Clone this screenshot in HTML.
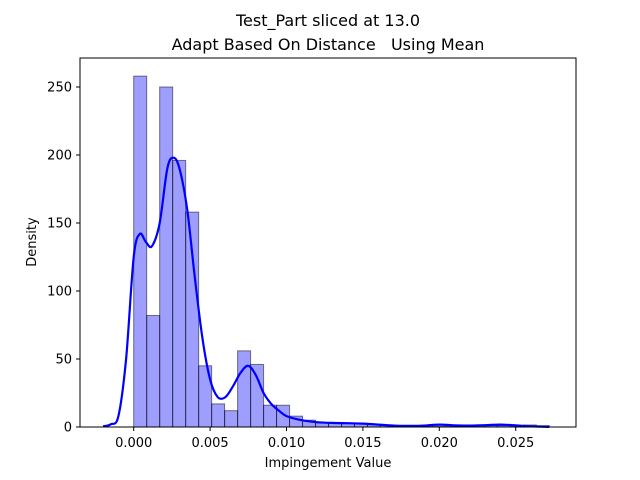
<!DOCTYPE html>
<html><head><meta charset="utf-8"><style>
body{margin:0;background:#fff;}
svg{display:block;font-family:"DejaVu Sans","Liberation Sans",sans-serif;}
</style></head><body>
<svg id="chart" width="640" height="480">
<text x="328" y="26" font-size="16" text-anchor="middle">Test_Part sliced at 13.0</text>
<text x="328" y="50" font-size="16" text-anchor="middle" style="white-space:pre" xml:space="preserve">Adapt Based On Distance   Using Mean</text>
<g id="bars"></g>
<path id="kde" fill="none" stroke="#0000ff" stroke-width="2.2" stroke-linejoin="round"></path>
<rect x="80" y="58" width="496" height="369" fill="none" stroke="#000" stroke-width="1"/>
<g id="axes"></g>
<text x="328" y="467" font-size="13" text-anchor="middle">Impingement Value</text>
<text transform="translate(36,242) rotate(-90)" font-size="13" text-anchor="middle">Density</text>
</svg>
<script>
const binStart = 0.0;
const binWidth = 0.00085;
const binValues = [258,82,250,196,158,45,17,12,56,46,16,16,8,5,3,3,2.5,2.5,2,1.5,1,1,0.5,0.5,0.5,1,1.5,1,1,1,1.5,1];
const kdeX = [-0.002,-0.0015,-0.001,-0.0005,0,0.0004,0.0008,0.0012,0.0017,0.0022,0.0026,0.003,0.0035,0.004,0.0045,0.005,0.0055,0.006,0.0065,0.007,0.0075,0.008,0.0085,0.009,0.0095,0.010,0.011,0.012,0.013,0.014,0.015,0.016,0.017,0.018,0.019,0.020,0.021,0.022,0.023,0.024,0.025,0.026,0.0272];
const kdeY = [0.5,2,8,50,125,142,136,133,150,190,198,190,160,110,65,35,22,22,30,40,45,38,25,17,12,8,5,3.5,3,2.8,2.5,1.8,1,0.8,1,1.8,1.2,1,1.3,1.8,1.2,0.5,0.1];
const xTicks = [0,0.005,0.010,0.015,0.020,0.025];
const xTickLabels = ["0.000","0.005","0.010","0.015","0.020","0.025"];
const yTicks = [0,50,100,150,200,250];

const NS="http://www.w3.org/2000/svg";
function xs(v){return 133.7+v*15280;}
function ys(v){return 427-v*1.36;}
const bars=document.getElementById('bars');
binValues.forEach((v,i)=>{
  const r=document.createElementNS(NS,'rect');
  const x0=xs(binStart+i*binWidth), x1=xs(binStart+(i+1)*binWidth);
  r.setAttribute('x',x0);r.setAttribute('y',ys(v));
  r.setAttribute('width',x1-x0);r.setAttribute('height',427-ys(v));
  r.setAttribute('fill','rgba(0,0,255,0.38)');r.setAttribute('stroke','rgba(0,0,0,0.5)');r.setAttribute('stroke-width','1');
  
  
  bars.appendChild(r);
});
const pts=kdeX.map((x,i)=>[xs(x),ys(kdeY[i])]);
let d='M'+pts[0][0].toFixed(1)+','+pts[0][1].toFixed(1);
for(let i=0;i<pts.length-1;i++){
  const p0=pts[Math.max(0,i-1)],p1=pts[i],p2=pts[i+1],p3=pts[Math.min(pts.length-1,i+2)];
  const c1=[p1[0]+(p2[0]-p0[0])/6,p1[1]+(p2[1]-p0[1])/6];
  const c2=[p2[0]-(p3[0]-p1[0])/6,p2[1]-(p3[1]-p1[1])/6];
  d+=' C'+c1[0].toFixed(1)+','+c1[1].toFixed(1)+' '+c2[0].toFixed(1)+','+c2[1].toFixed(1)+' '+p2[0].toFixed(1)+','+p2[1].toFixed(1);
}
document.getElementById('kde').setAttribute('d',d);
const ax=document.getElementById('axes');
xTicks.forEach((t,i)=>{
  const l=document.createElementNS(NS,'line');
  l.setAttribute('x1',xs(t));l.setAttribute('x2',xs(t));l.setAttribute('y1',427);l.setAttribute('y2',431);l.setAttribute('stroke','#000');
  
  
  ax.appendChild(l);
  const tx=document.createElementNS(NS,'text');
  tx.setAttribute('x',xs(t));tx.setAttribute('y',447);tx.setAttribute('font-size','13');tx.setAttribute('text-anchor','middle');
  tx.textContent=xTickLabels[i];
  
  
  ax.appendChild(tx);
});
yTicks.forEach(t=>{
  const l=document.createElementNS(NS,'line');
  l.setAttribute('x1',76);l.setAttribute('x2',80);l.setAttribute('y1',ys(t));l.setAttribute('y2',ys(t));l.setAttribute('stroke','#000');
  
  
  ax.appendChild(l);
  const tx=document.createElementNS(NS,'text');
  tx.setAttribute('x',72);tx.setAttribute('y',ys(t)+4.5);tx.setAttribute('font-size','13');tx.setAttribute('text-anchor','end');
  tx.textContent=t;
  
  
  ax.appendChild(tx);
});
</script>
</body></html>
